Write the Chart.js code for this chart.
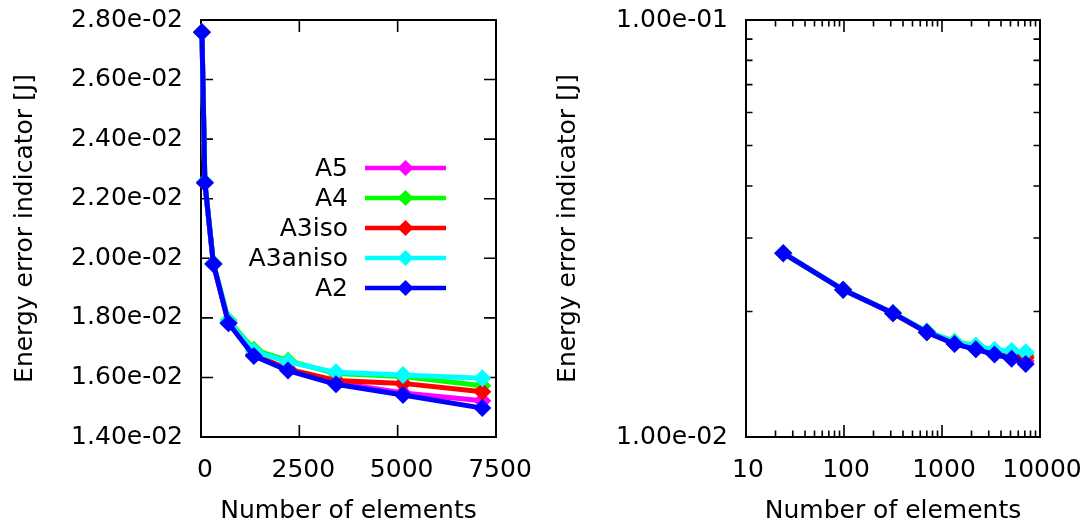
<!DOCTYPE html>
<html>
<head>
<meta charset="utf-8">
<script src="https://cdn.jsdelivr.net/npm/chart.js@4.4.1/dist/chart.umd.min.js"></script>
<style>
  html, body { margin: 0; padding: 0; background: #fff; }
  #wrap { position: relative; width: 1091px; height: 527px; }
  canvas { position: absolute; top: 0; }
  #c1 { left: 0; }
  #c2 { left: 545px; }
</style>
</head>
<body>
<div id="wrap">
  <canvas id="c1" width="545" height="527"></canvas>
  <canvas id="c2" width="546" height="527"></canvas>
</div>
<script>
// ---- data ----
const elements = [24, 98, 316, 700, 1344, 2212, 3432, 5136, 7152];
const seriesNames = ['A5', 'A4', 'A3iso', 'A3aniso', 'A2'];
const seriesColors = ['#ff00ff', '#00ff00', '#ff0000', '#00ffff', '#0000ff'];
const A5      = [0.02759, 0.02254, 0.01981, 0.01783, 0.01676, 0.01627, 0.01583, 0.01548, 0.01522];
const A4      = [0.02759, 0.02255, 0.01983, 0.01792, 0.01693, 0.01656, 0.01613, 0.01603, 0.01572];
const A3iso   = [0.02759, 0.02254, 0.01981, 0.01784, 0.01675, 0.01628, 0.01590, 0.01580, 0.01552];
const A3aniso = [0.02759, 0.02255, 0.01982, 0.01789, 0.01688, 0.01652, 0.01617, 0.01608, 0.01597];
const A2      = [0.02759, 0.02254, 0.01981, 0.01782, 0.01672, 0.01623, 0.01577, 0.01541, 0.01497];
const seriesValues = [A5, A4, A3iso, A3aniso, A2];

// tick values / labels
const linXTicks = [0, 2500, 5000, 7500];
const linYTicks = [0.014, 0.016, 0.018, 0.020, 0.022, 0.024, 0.026, 0.028];
const logXTicks = [10, 100, 1000, 10000];
const logYTicks = [0.01, 0.1];
const xTitle = 'Number of elements';
const yTitle = 'Energy error indicator [J]';

const FONT = 'DejaVu Sans';
const FS = 25;

function gnuExp(v) {
  const s = v.toExponential(2);
  const [m, e] = s.split('e');
  const sign = e[0] === '-' ? '-' : '+';
  let d = e.replace(/^[+-]/, '');
  if (d.length < 2) d = '0' + d;
  return m + 'e' + sign + d;
}

function makeDatasets() {
  return seriesNames.map((name, i) => ({
    label: name,
    data: elements.map((x, k) => ({ x: x, y: seriesValues[i][k] })),
    borderColor: seriesColors[i],
    backgroundColor: seriesColors[i],
    borderWidth: 5,
    pointStyle: 'rectRot',
    pointRadius: 9,
    pointHoverRadius: 9,
    pointBorderWidth: 0,
    showLine: true,
    tension: 0,
    clip: false,
    order: seriesNames.length - 1 - i
  }));
}

const frameTicks = {
  id: 'frameTicks',
  beforeDatasetsDraw(chart, args, opts) {
    const { ctx, chartArea: a, scales: { x, y } } = chart;
    ctx.save();
    ctx.strokeStyle = '#000';
    ctx.lineCap = 'butt';
    const major = 12, minor = 6.5;
    const vline = (px, len) => {
      ctx.beginPath();
      ctx.moveTo(px, a.bottom); ctx.lineTo(px, a.bottom - len);
      ctx.moveTo(px, a.top); ctx.lineTo(px, a.top + len);
      ctx.stroke();
    };
    const hline = (py, len) => {
      ctx.beginPath();
      ctx.moveTo(a.left, py); ctx.lineTo(a.left + len, py);
      ctx.moveTo(a.right, py); ctx.lineTo(a.right - len, py);
      ctx.stroke();
    };
    ctx.lineWidth = 1.6;
    (opts.xMajor || []).forEach(v => vline(x.getPixelForValue(v), major));
    (opts.yMajor || []).forEach(v => hline(y.getPixelForValue(v), major));
    if (opts.xMinorLog) {
      for (let d = opts.xMinorLog[0]; d < opts.xMinorLog[1]; d *= 10) {
        for (let m = 2; m <= 9; m++) vline(x.getPixelForValue(d * m), minor);
      }
    }
    if (opts.yMinorLog) {
      for (let d = opts.yMinorLog[0]; d < opts.yMinorLog[1] - 1e-12; d *= 10) {
        for (let m = 2; m <= 9; m++) hline(y.getPixelForValue(d * m), minor);
      }
    }
    ctx.lineWidth = 2;
    ctx.strokeRect(a.left, a.top, a.right - a.left, a.bottom - a.top);
    ctx.restore();
  }
};

const gnuKey = {
  id: 'gnuKey',
  afterDatasetsDraw(chart, args, opts) {
    if (!opts.show) return;
    const { ctx } = chart;
    ctx.save();
    ctx.font = FS + 'px "' + FONT + '"';
    ctx.textAlign = 'right';
    ctx.textBaseline = 'middle';
    chart.data.datasets.forEach((ds, i) => {
      const yy = opts.top + i * opts.rowH;
      ctx.fillStyle = '#000';
      ctx.fillText(ds.label, opts.textRight, yy + 1);
      ctx.strokeStyle = ds.borderColor;
      ctx.lineWidth = 4.5;
      ctx.beginPath();
      ctx.moveTo(opts.lineL, yy); ctx.lineTo(opts.lineR, yy);
      ctx.stroke();
      const cx = (opts.lineL + opts.lineR) / 2, r = 8;
      ctx.fillStyle = ds.borderColor;
      ctx.beginPath();
      ctx.moveTo(cx, yy - r); ctx.lineTo(cx + r, yy); ctx.lineTo(cx, yy + r); ctx.lineTo(cx - r, yy);
      ctx.closePath(); ctx.fill();
    });
    ctx.restore();
  }
};

function zeroPad(s) { s.paddingTop = 0; s.paddingBottom = 0; s.paddingLeft = 0; s.paddingRight = 0; }

function makeChart(canvasId, isLog) {
  const xT = isLog ? logXTicks : linXTicks;
  const yT = isLog ? logYTicks : linYTicks;
  const rightPad = isLog ? 51 : 49;
  return new Chart(document.getElementById(canvasId), {
    type: 'scatter',
    data: { datasets: makeDatasets() },
    options: {
      responsive: false,
      animation: false,
      events: [],
      layout: { padding: { left: 0, right: rightPad, top: 20, bottom: 0 } },
      plugins: {
        legend: { display: false },
        tooltip: { enabled: false },
        frameTicks: isLog
          ? { xMajor: logXTicks, yMajor: [], xMinorLog: [10, 10000], yMinorLog: [0.01, 0.1] }
          : { xMajor: linXTicks, yMajor: linYTicks },
        gnuKey: { show: !isLog, top: 168, rowH: 30, textRight: 348, lineL: 365, lineR: 446 }
      },
      scales: {
        x: {
          type: isLog ? 'logarithmic' : 'linear',
          min: isLog ? 10 : 0,
          max: isLog ? 10000 : 7500,
          grid: { display: false, drawTicks: false },
          border: { display: false },
          afterBuildTicks: s => { s.ticks = xT.map(v => ({ value: v })); },
          afterFit: s => { s.height = 90; zeroPad(s); },
          ticks: {
            autoSkip: false, maxRotation: 0, padding: 18, color: '#000',
            labelOffset: isLog ? 2 : 4,
            font: { family: FONT, size: FS },
            callback: v => String(v)
          },
          title: {
            display: true, text: xTitle, color: '#000',
            font: { family: FONT, size: FS },
            padding: { top: 0, bottom: 1 }
          }
        },
        y: {
          type: isLog ? 'logarithmic' : 'linear',
          min: isLog ? 0.01 : 0.014,
          max: isLog ? 0.1 : 0.028,
          grid: { display: false, drawTicks: false },
          border: { display: false },
          afterBuildTicks: s => { s.ticks = yT.map(v => ({ value: v })); },
          afterFit: s => { s.width = 201; zeroPad(s); },
          ticks: {
            autoSkip: false, padding: 18, color: '#000',
            font: { family: FONT, size: FS },
            callback: v => gnuExp(v)
          },
          title: {
            display: true, text: yTitle, color: '#000',
            font: { family: FONT, size: FS },
            padding: { top: isLog ? 8 : 10, bottom: 0 }
          }
        }
      }
    },
    plugins: [frameTicks, gnuKey]
  });
}

makeChart('c1', false);
makeChart('c2', true);
</script>
</body>
</html>
